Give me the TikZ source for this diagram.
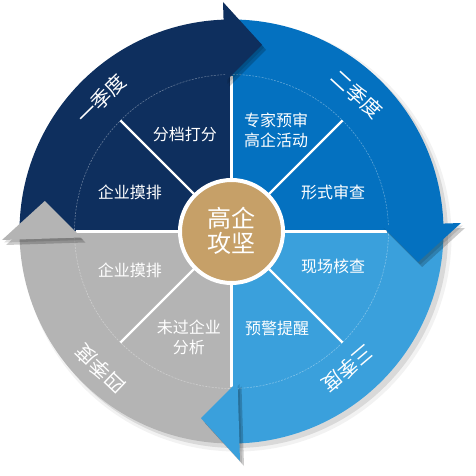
\documentclass[tikz,border=0pt]{standalone}
\usepackage{fontspec}
\setmainfont{Noto Sans CJK SC}
\begin{document}
\begin{tikzpicture}[x=1pt,y=1pt,
  divider/.style={white,line width=2.8pt},
  diag/.style={white,line width=2.3pt},
  innerlabel/.style={text=white,align=center,inner sep=0pt,font=\fontsize{16}{19.3}\selectfont},
  ringlabel/.style={text=white,inner sep=0pt,font=\fontsize{20}{20}\selectfont},
  headshadow/.style={black,opacity=0.2}]
\definecolor{cnavy}{RGB}{14,47,94}
\definecolor{cblue}{RGB}{4,113,192}
\definecolor{clblue}{RGB}{58,160,220}
\definecolor{cgray}{RGB}{180,180,180}
\definecolor{cgold}{RGB}{198,160,104}
\useasboundingbox (-231.5,-244.5) rectangle (244.5,231.5);
% outer shadow
\fill[black,opacity=0.05] (5,-5) circle (215);
\fill[black,opacity=0.1] (4,-4) circle (212.5);
% quadrants
\fill[cnavy] (0,0) -- (90:212) arc[start angle=90,end angle=180,radius=212] -- cycle;
\fill[cblue] (0,0) -- (0:212) arc[start angle=0,end angle=90,radius=212] -- cycle;
\fill[clblue] (0,0) -- (-90:212) arc[start angle=-90,end angle=0,radius=212] -- cycle;
\fill[cgray] (0,0) -- (180:212) arc[start angle=180,end angle=270,radius=212] -- cycle;
% faint inner circle
\draw[white,opacity=0.35,line width=0.6pt,dash pattern=on 2pt off 1.2pt] (0,0) circle (157);
% dividers
\draw[divider] (-155,0) -- (155,0);
\draw[divider] (0,-155) -- (0,155);
\foreach \a in {45,135,225,315} \draw[diag] (0,0) -- (\a:157);
% arrow heads
\foreach \r/\c in {0/cnavy,-90/cblue,-180/clblue,-270/cgray}{
  \begin{scope}[shift={(4,-5)},rotate=\r]
    \fill[headshadow] (-8.5,229.5) -- (30.5,186.7) -- (-6,150) -- cycle;
  \end{scope}
  \begin{scope}[shift={(2,-2.5)},rotate=\r]
    \fill[headshadow,opacity=0.12] (-8.5,229.5) -- (30.5,186.7) -- (-6,150) -- cycle;
  \end{scope}
  \begin{scope}[rotate=\r]
    \fill[\c] (-8.5,229.5) -- (30.5,186.7) -- (-6,150) -- cycle;
  \end{scope}
}
% center
\node (core) [circle,fill=cgold,draw=white,line width=4pt,minimum size=103pt,inner sep=0pt] at (0,0) {};
\node (coretext) [text=white,align=center,inner sep=0pt,font=\fontsize{24}{25}\selectfont] at (0,1) {高企\\攻坚};
% inner labels
\node (l1) [innerlabel] at (-46.5,97.5) {分档打分};
\node (l2) [innerlabel] at (-101.5,39.5) {企业摸排};
\node (l3) [innerlabel] at (44.5,101) {专家预审\\高企活动};
\node (l4) [innerlabel] at (101.5,39.5) {形式审查};
\node (l5) [innerlabel] at (101.5,-34.5) {现场核查};
\node (l6) [innerlabel] at (45.5,-96.5) {预警提醒};
\node (l7) [innerlabel] at (-42.5,-106) {未过企业\\分析};
\node (l8) [innerlabel] at (-101.5,-38.5) {企业摸排};
% ring labels
\node (q1) [ringlabel,rotate=44.5] at (134.5:186) {一季度};
\node (q2) [ringlabel,rotate=-42.5] at (47.5:186) {二季度};
\node (q3) [ringlabel,rotate=-139.7] at (-49.7:180) {三季度};
\node (q4) [ringlabel,rotate=136.3] at (226.3:190) {四季度};
\end{tikzpicture}
\end{document}
